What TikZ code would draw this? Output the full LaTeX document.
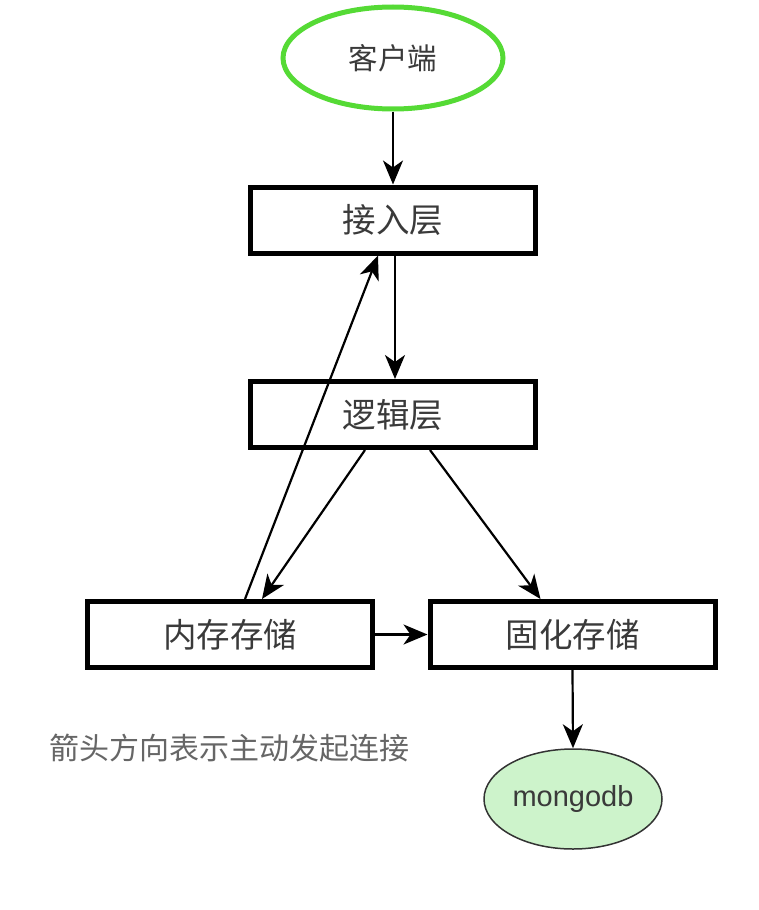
\documentclass[tikz,border=0pt]{standalone}
\usepackage{fontspec}
\setmainfont{Liberation Sans}
\newfontfamily\cjk{Noto Sans CJK SC}
\usetikzlibrary{shapes.geometric,arrows.meta}
\definecolor{cgreen}{HTML}{55DA35}
\definecolor{mfill}{HTML}{CDF3CB}
\definecolor{txt}{HTML}{3A3A3A}
\tikzset{
  layerbox/.style={draw=black, line width=5pt, minimum width=285pt, minimum height=66pt, inner sep=0pt, font=\cjk\fontsize{33.5}{33.5}\selectfont, text=txt},
  conn/.style={line width=2.2pt, -{Stealth[length=24pt,width=20pt,inset=7pt]}},
}
\begin{document}
\begin{tikzpicture}[x=1pt,y=-1pt]
\useasboundingbox (0,0) rectangle (758,910);
\node[ellipse, draw=cgreen, line width=5pt, minimum width=220pt, minimum height=102pt, inner sep=0pt, font=\cjk\fontsize{29.5}{29.5}\selectfont, text=txt] (client) at (393,58) {客户端};
\node[layerbox] (acc) at (393,220) {接入层};
\node[layerbox] (logic) at (393,414.5) {逻辑层};
\node[layerbox] (mem) at (230,634.5) {内存存储};
\node[layerbox] (solid) at (572.5,634.5) {固化存储};
\node[ellipse, draw=black!80, fill=mfill, line width=1.5pt, minimum width=178pt, minimum height=100pt, inner sep=0pt, font=\fontsize{29}{29}\selectfont, text=txt] (mongo) at (573,799) {mongodb};
\node[anchor=west, inner sep=0pt, font=\cjk\fontsize{30}{30}\selectfont, text=black!60] (note) at (49,748) {箭头方向表示主动发起连接};
\draw[conn] (client.south) -- (acc.north);
\draw[conn] ([xshift=2pt]acc.south) -- ([xshift=2pt]logic.north);
\draw[conn] ([xshift=15pt]mem.north) -- ([xshift=-15pt]acc.south);
\draw[conn] ([xshift=-28pt]logic.south) -- ([xshift=32pt]mem.north);
\draw[conn] ([xshift=37pt]logic.south) -- ([xshift=-32pt]solid.north);
\draw[conn] (mem.east) -- (solid.west);
\draw[conn] (solid.south) -- (mongo.north);
\end{tikzpicture}
\end{document}
